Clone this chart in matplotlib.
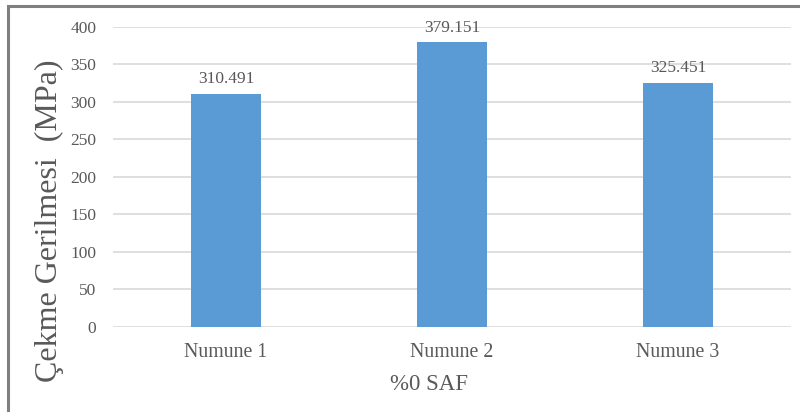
import matplotlib
matplotlib.use("Agg")
import matplotlib.pyplot as plt
from matplotlib.patches import Rectangle

categories = ["Numune 1", "Numune 2", "Numune 3"]
values = [310.491, 379.151, 325.451]
value_labels = ["310.491", "379.151", "325.451"]
yticks = [0, 50, 100, 150, 200, 250, 300, 350, 400]

plt.rcParams["font.family"] = ["Liberation Serif", "DejaVu Serif"]
text_color = "#595959"
bar_color = "#5B9BD5"

fig = plt.figure(figsize=(8.0, 4.12), dpi=100)
W, H = 800, 412
ax = fig.add_axes([113 / W, 1 - 326.7 / H, (791 - 113) / W, (326.7 - 26.7) / H])

x = range(len(categories))
bars = ax.bar(x, values, width=0.314, color=bar_color, zorder=3)
for b, lab in zip(bars, value_labels):
    ax.text(b.get_x() + b.get_width() / 2, b.get_height() + 9, lab,
            ha="center", va="bottom", fontsize=12.5, color=text_color)

ax.set_xlim(-0.5, len(categories) - 0.5)
ax.set_ylim(0, 400)
ax.set_yticks(yticks)
ax.set_xticks(list(x))
ax.set_xticklabels(categories, fontsize=14.3, color=text_color)
ax.tick_params(axis="y", labelsize=12.5, labelcolor=text_color, length=0, pad=12)
ax.tick_params(axis="x", length=0, pad=12)
ax.grid(axis="y", color="#D9D9D9", linewidth=1.2, zorder=0)
for s in ax.spines.values():
    s.set_visible(False)

fig.text(49 / W, 1 - 221 / H, "Çekme Gerilmesi  (MPa)", rotation=90,
         ha="center", va="center", fontsize=23, color=text_color)
fig.text(429 / W, 1 - 385 / H, "%0 SAF", ha="center", va="center",
         fontsize=16.5, color=text_color)

# outer frame (top and left edges visible)
fig.add_artist(Rectangle((8 / W, -0.1), 1.2, 1 - 6 / H + 0.1,
                         transform=fig.transFigure, fill=False,
                         edgecolor="#7F7F7F", linewidth=2.2))

fig.savefig("out.png", dpi=100, facecolor="white")
